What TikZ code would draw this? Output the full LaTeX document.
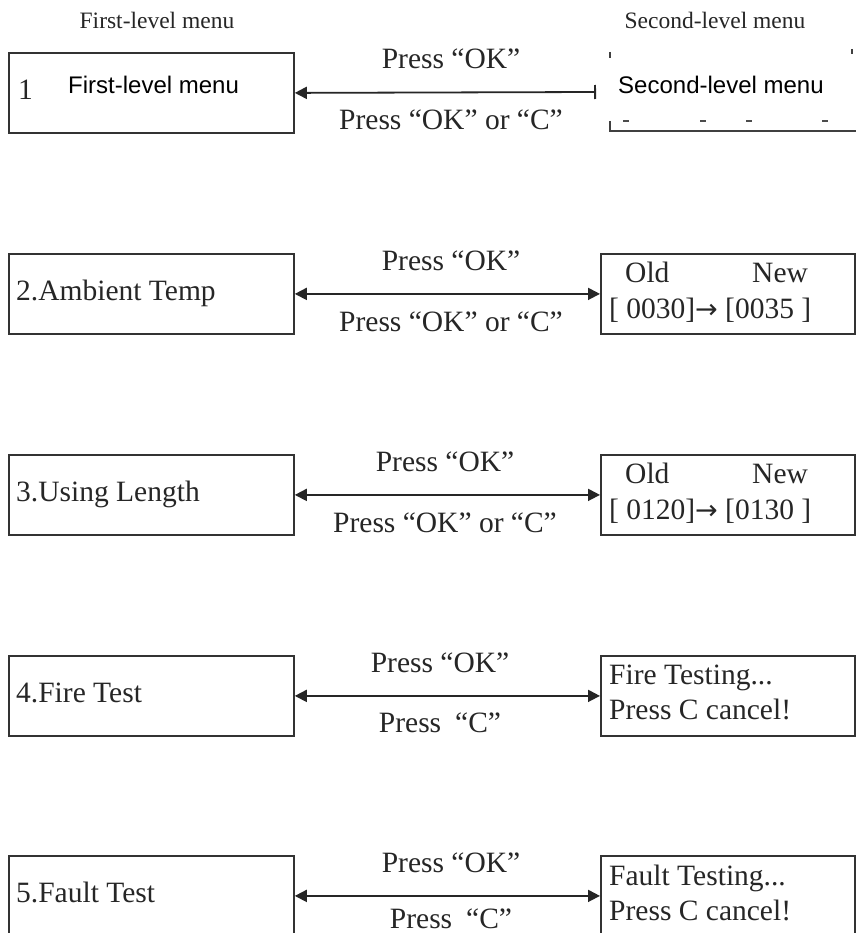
\documentclass[tikz,border=0pt]{standalone}
\usepackage{fontspec}
\setmainfont{Liberation Serif}
\newfontfamily\lsans{Liberation Sans}
\newfontfamily\dvsans{DejaVu Sans}
\usetikzlibrary{arrows.meta}
\begin{document}
\begin{tikzpicture}[x=1pt,y=-1pt,
  box/.style={draw=black!80,line width=1.8pt,minimum width=285pt,minimum height=80pt,inner sep=0pt,anchor=north west},
  rbox/.style={box,minimum width=254pt},
  tx/.style={font=\fontsize{29.5}{34}\selectfont,inner sep=0pt,text=black!85},
  hd/.style={font=\fontsize{23.5}{28}\selectfont,inner sep=0pt,anchor=base,text=black!85},
  sf/.style={font=\lsans\fontsize{24}{28}\selectfont,inner sep=0pt,anchor=base west},
  lw/.style={tx,anchor=base west},
  lc/.style={tx,anchor=base},
  dbl/.style={line width=1.8pt,draw=black!85,{Triangle[length=12pt,width=12pt]}-{Triangle[length=12pt,width=12pt]}},
  piece/.style={line width=1.8pt,draw=black!75}
]
\path[use as bounding box] (0,0) rectangle (855,933);
\fill[white] (0,0) rectangle (855,933);
% headers
\node[hd] (h1) at (157,29) {First-level menu};
\node[hd] (h2) at (715,29) {Second-level menu};
% row 1
\node[box] (l1) at (8,52) {};
\node[lw] (n1) at (18,100) {1};
\node[sf] (s1) at (68,94) {First-level menu};
\node[sf] (s2) at (618,94) {Second-level menu};
\draw[piece] (610,52) -- (610,58);
\draw[piece] (852,49) -- (852,54);
\draw[piece] (610,121) -- (610,131) -- (856,131);
\foreach \xx in {623,700,746,822} \draw[line width=1.5pt,black!70] (\xx,121) -- (\xx+6,121);
\coordinate (e1) at (596,92);
\draw[line width=1.8pt,draw=black!85,{Triangle[length=12pt,width=12pt]}-{Bar[width=14pt,line width=1.8pt]}] (l1.east) -- (e1);
\node[lc] (a1) at (451,69) {Press “OK”};
\node[lc] (b1) at (451,130) {Press “OK” or “C”};
% row 2
\node[box] (l2) at (8,253) {};
\node[lw] (t2) at (16,300) {2.Ambient Temp};
\node[rbox] (r2) at (600,253) {};
\node[lw] (o2) at (625,282) {Old};
\node[lw] (w2) at (752,282) {New};
\node[lw] (v2) at (609,318) {[ 0030]{\dvsans\fontsize{27}{30}\selectfont →} [0035 ]};
\draw[dbl] (l2.east) -- (r2.west);
\node[lc] (a2) at (451,270) {Press “OK”};
\node[lc] (b2) at (451,331) {Press “OK” or “C”};
% row 3
\node[box] (l3) at (8,454) {};
\node[lw] (t3) at (16,501) {3.Using Length};
\node[rbox] (r3) at (600,454) {};
\node[lw] (o3) at (625,483) {Old};
\node[lw] (w3) at (752,483) {New};
\node[lw] (v3) at (609,519) {[ 0120]{\dvsans\fontsize{27}{30}\selectfont →} [0130 ]};
\draw[dbl] (l3.east) -- (r3.west);
\node[lc] (a3) at (445,471) {Press “OK”};
\node[lc] (b3) at (445,532) {Press “OK” or “C”};
% row 4
\node[box] (l4) at (8,655) {};
\node[lw] (t4) at (16,702) {4.Fire Test};
\node[rbox] (r4) at (600,655) {};
\node[lw] (f4) at (609,684) {Fire Testing...};
\node[lw] (c4) at (609,719) {Press C cancel!};
\draw[dbl] (l4.east) -- (r4.west);
\node[lc] (a4) at (440,672) {Press “OK”};
\node[lc] (b4) at (440,732) {Press\hspace{14pt}“C”};
% row 5
\node[box] (l5) at (8,855) {};
\node[lw] (t5) at (16,902) {5.Fault Test};
\node[rbox] (r5) at (600,855) {};
\node[lw] (f5) at (609,885) {Fault Testing...};
\node[lw] (c5) at (609,920) {Press C cancel!};
\draw[dbl] (l5.east) -- (r5.west);
\node[lc] (a5) at (451,872) {Press “OK”};
\node[lc] (b5) at (451,928) {Press\hspace{14pt}“C”};
\end{tikzpicture}
\end{document}
